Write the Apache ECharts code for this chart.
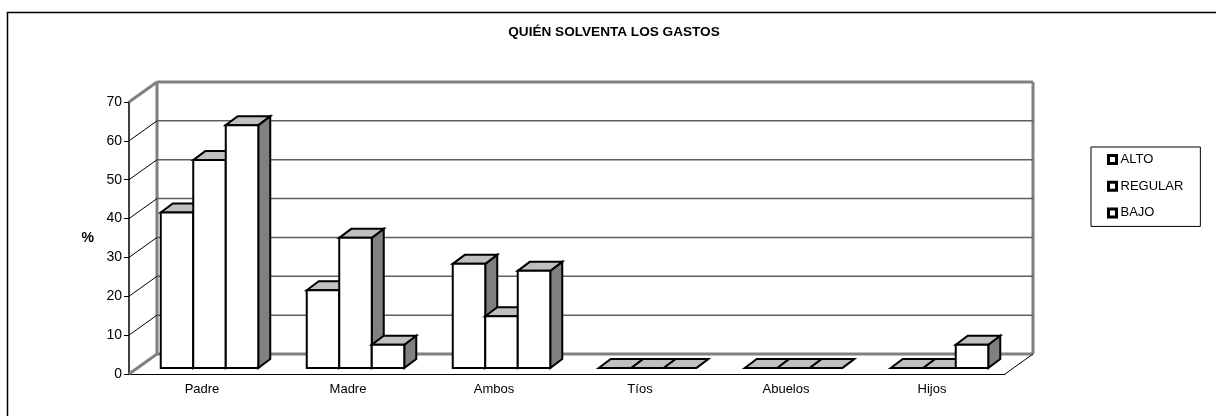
<!DOCTYPE html>
<html>
<head>
<meta charset="utf-8">
<style>
    html, body { margin: 0; padding: 0; background: #fff; }
    #chart { width: 1216px; height: 416px; }
</style>
<script src="https://cdn.jsdelivr.net/npm/echarts@6/dist/echarts.min.js"></script>
</head>
<body>
<div id="chart"></div>
<script>
const categories = ['Padre', 'Madre', 'Ambos', 'Tíos', 'Abuelos', 'Hijos'];
const alto = [40, 20, 26.8, 0, 0, 0];
const regular = [53.5, 33.5, 13.3, 0, 0, 0];
const bajo = [62.5, 6, 25, 0, 0, 6];
const yTicks = [0, 10, 20, 30, 40, 50, 60, 70];

const FONT = '"Liberation Sans", Arial, sans-serif';

// fake 3D: wall depth and bar depth in px
const WALL_DX = 28, WALL_DY = -20;
const BAR_DX = 12, BAR_DY = -9;
const BAR_SHIFT_X = 7.5, BAR_SHIFT_Y = -6;
const BAR_RATIO = 32.5 / 146;

function line(x1, y1, x2, y2, color, width) {
    return {
        type: 'line',
        shape: { x1, y1, x2, y2 },
        style: { stroke: color, lineWidth: width, fill: null }
    };
}

// back wall, floor and grid lines
function renderWall(params, api) {
    const cs = params.coordSys;
    const v = api.value(0);
    const y = api.coord([0, v])[1];
    const left = cs.x, right = cs.x + cs.width;
    const edge = v === 0 || v === 70;
    const children = [
        line(left + WALL_DX, y + WALL_DY, right + WALL_DX, y + WALL_DY,
            edge ? '#808080' : '#5f5f5f', edge ? 3 : 1.5),
        line(left, y, left + WALL_DX, y + WALL_DY,
            edge ? '#808080' : '#000', edge ? 3 : 1)
    ];
    if (v === 0) {
        const top = cs.y + WALL_DY;
        children.push(line(left + WALL_DX, top, left + WALL_DX, y + WALL_DY, '#808080', 3));
        children.push(line(right + WALL_DX, top, right + WALL_DX, y + WALL_DY, '#808080', 3));
        children.push(line(right, y, right + WALL_DX, y + WALL_DY, '#000', 1));
    }
    return { type: 'group', children };
}

function poly(points, fill) {
    return {
        type: 'polygon',
        shape: { points },
        style: { fill, stroke: '#000', lineWidth: 2, lineJoin: 'miter' }
    };
}

function barRenderer(level) {
    return function (params, api) {
        const cat = api.value(0);
        const base = api.coord([cat, 0]);
        const top = api.coord([cat, api.value(1)]);
        const bw = api.size([1, 0])[0] * BAR_RATIO;
        const x0 = base[0] + BAR_SHIFT_X + (level - 1.5) * bw;
        const x1 = x0 + bw;
        const y0 = base[1] + BAR_SHIFT_Y;
        const y1 = top[1] + BAR_SHIFT_Y;
        return {
            type: 'group',
            children: [
                poly([[x1, y1], [x1 + BAR_DX, y1 + BAR_DY], [x1 + BAR_DX, y0 + BAR_DY], [x1, y0]], '#808080'),
                poly([[x0, y1], [x0 + BAR_DX, y1 + BAR_DY], [x1 + BAR_DX, y1 + BAR_DY], [x1, y1]], '#c0c0c0'),
                poly([[x0, y0], [x0, y1], [x1, y1], [x1, y0]], '#fff')
            ]
        };
    };
}

function barSeries(name, values, level) {
    return {
        name,
        type: 'custom',
        renderItem: barRenderer(level),
        encode: { x: 0, y: 1 },
        data: values.map((v, i) => [i, v]),
        itemStyle: { color: '#fff', borderColor: '#000', borderWidth: 3 },
        silent: true,
        clip: false,
        z: 3 + level
    };
}

const chart = echarts.init(document.getElementById('chart'));
chart.setOption({
    animation: false,
    backgroundColor: '#fff',
    textStyle: { fontFamily: FONT },
    title: {
        text: 'QUIÉN SOLVENTA LOS GASTOS',
        left: 614,
        top: 25,
        textAlign: 'center',
        padding: 0,
        textStyle: { fontFamily: FONT, fontSize: 13.6, fontWeight: 'bold', color: '#000' }
    },
    legend: {
        orient: 'vertical',
        left: 1091,
        top: 147,
        padding: [6, 17, 7, 16],
        itemGap: 13.7,
        itemWidth: 8,
        itemHeight: 8,
        icon: 'rect',
        selectedMode: false,
        borderColor: '#000',
        borderWidth: 1,
        itemStyle: { color: '#fff', borderColor: '#000', borderWidth: 3 },
        textStyle: { fontFamily: FONT, fontSize: 13, color: '#000', padding: [0, 0, 0, -1] },
        data: ['ALTO', 'REGULAR', 'BAJO']
    },
    grid: { left: 129, top: 102, width: 876, height: 272 },
    xAxis: {
        type: 'category',
        data: categories,
        axisLine: { lineStyle: { color: '#000', width: 1 } },
        axisTick: { length: 5, lineStyle: { color: '#000' } },
        axisLabel: { color: '#000', fontSize: 13, fontFamily: FONT, margin: 9 }
    },
    yAxis: {
        type: 'value',
        min: 0,
        max: 70,
        interval: 10,
        name: '%',
        nameLocation: 'middle',
        nameRotate: 0,
        nameGap: 35,
        nameTextStyle: { color: '#000', fontSize: 14, fontWeight: 'bold', fontFamily: FONT, padding: [2, 0, 0, 0] },
        axisLine: { show: true, lineStyle: { color: '#000', width: 1.5 } },
        axisTick: { show: true, length: 5, lineStyle: { color: '#000' } },
        axisLabel: { color: '#000', fontSize: 14, fontFamily: FONT, margin: 7 },
        splitLine: { show: false }
    },
    series: [
        {
            name: 'wall',
            type: 'custom',
            renderItem: renderWall,
            encode: { y: 0 },
            data: yTicks.map(v => [v]),
            silent: true,
            clip: false,
            z: 1
        },
        barSeries('ALTO', alto, 0),
        barSeries('REGULAR', regular, 1),
        barSeries('BAJO', bajo, 2)
    ],
    graphic: [
        {
            type: 'polyline',
            shape: { points: [[7.5, 416], [7.5, 12.5], [1216, 12.5]] },
            style: { stroke: '#000', lineWidth: 1.5, fill: null }
        }
    ]
});
</script>
</body>
</html>
